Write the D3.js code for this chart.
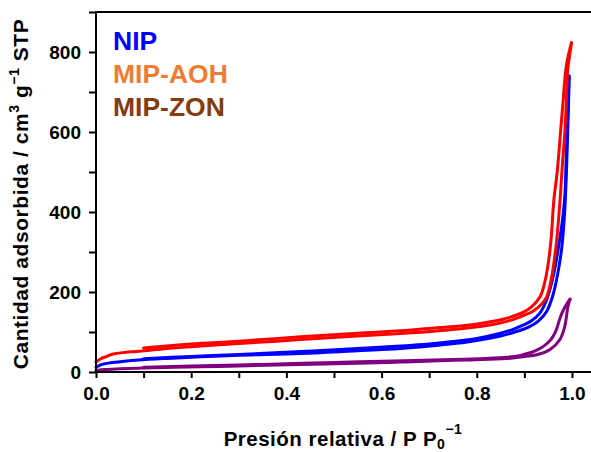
<!DOCTYPE html>
<html>
<head>
<meta charset="utf-8">
<script src="https://cdn.jsdelivr.net/npm/d3@7"></script>
<style>
  html, body { margin: 0; padding: 0; background: #fff; }
  svg { display: block; }
  text { font-family: "Liberation Sans", Arial, sans-serif; font-weight: bold; }
</style>
</head>
<body>
<svg id="chart" width="591" height="452"></svg>
<script>
// ---- Data ----
const xTicks = [0, 0.1, 0.2, 0.3, 0.4, 0.5, 0.6, 0.7, 0.8, 0.9, 1.0];
const xTickLabels = ["0.0", "", "0.2", "", "0.4", "", "0.6", "", "0.8", "", "1.0"];
const yTicks = [0, 100, 200, 300, 400, 500, 600, 700, 800, 900];
const yTickLabels = ["0", "", "200", "", "400", "", "600", "", "800", ""];

const seriesNames = ["NIP", "MIP-AOH", "MIP-ZON"];
const legendColors = ["#0000ff", "#ed7d31", "#843c0c"];
const curveColors = ["#0000ff", "#ff0000", "#800080"];

// NIP (blue)
const nipAdsX = [0, 0.01, 0.03, 0.06, 0.09, 0.15, 0.22, 0.3, 0.43, 0.55, 0.64, 0.72, 0.78, 0.85, 0.88, 0.91, 0.93, 0.947, 0.96, 0.97, 0.978, 0.983, 0.986, 0.989, 0.991, 0.993, 0.994];
const nipAdsY = [12, 18, 23, 27, 30, 34, 38, 42, 46, 53, 59, 67, 75, 90, 100, 113, 128, 152, 192, 245, 305, 370, 430, 520, 600, 680, 740];
const nipDesX = [0.994, 0.991, 0.988, 0.985, 0.979, 0.972, 0.965, 0.955, 0.945, 0.933, 0.915, 0.897, 0.875, 0.85, 0.8, 0.75, 0.7, 0.64, 0.55, 0.43, 0.3, 0.2, 0.1];
const nipDesY = [740, 640, 540, 440, 370, 315, 265, 212, 175, 148, 128, 117, 106, 97, 84, 76, 70, 65, 59, 51, 44, 39, 33];

// MIP-AOH (red)
const aohAdsX = [0, 0.01, 0.02, 0.036, 0.06, 0.092, 0.15, 0.22, 0.3, 0.43, 0.55, 0.64, 0.72, 0.78, 0.84, 0.876, 0.9, 0.918, 0.935, 0.947, 0.957, 0.964, 0.968, 0.975, 0.98, 0.985, 0.988, 0.991, 0.995, 0.999];
const aohAdsY = [25, 33, 38, 45, 49, 52, 59, 65, 71, 81, 90, 96, 103, 110, 120, 131, 142, 152, 168, 188, 235, 290, 330, 430, 520, 600, 672, 755, 790, 823];
const aohDesX = [0.999, 0.992, 0.987, 0.981, 0.976, 0.969, 0.962, 0.956, 0.95, 0.943, 0.933, 0.915, 0.897, 0.875, 0.855, 0.82, 0.78, 0.7, 0.64, 0.55, 0.43, 0.3, 0.2, 0.1];
const aohDesY = [823, 790, 755, 672, 600, 500, 430, 330, 270, 225, 188, 163, 149, 139, 132, 124, 117, 109, 103, 97, 88, 77, 70, 60];

// MIP-ZON (purple)
const zonAdsX = [0, 0.02, 0.05, 0.1, 0.22, 0.3, 0.43, 0.55, 0.64, 0.72, 0.78, 0.85, 0.876, 0.9, 0.926, 0.954, 0.975, 0.984, 0.988, 0.991, 0.994, 0.996];
const zonAdsY = [4, 6, 8, 10, 13, 15, 19, 22, 25, 28, 30, 33, 35, 39, 43, 56, 82, 110, 135, 160, 175, 182];
const zonDesX = [0.996, 0.99, 0.982, 0.975, 0.969, 0.964, 0.955, 0.94, 0.925, 0.912, 0.89, 0.863, 0.82, 0.75, 0.65, 0.5, 0.35, 0.2, 0.1];
const zonDesY = [182, 172, 155, 135, 112, 97, 80, 64, 54, 48, 41, 37, 34, 31, 28, 24, 19, 15, 12];

// ---- Layout ----
const svg = d3.select("#chart");
const mLeft = 96, mRight = 591, mTop = 12, mBottom = 372;

const x = d3.scaleLinear().domain([0, 1.04]).range([mLeft, mRight]);
const y = d3.scaleLinear().domain([0, 900]).range([mBottom, mTop]);

const zip = (xs, ys) => xs.map((v, i) => [v, ys[i]]);
const series = [
  { color: curveColors[0], branches: [zip(nipAdsX, nipAdsY), zip(nipDesX, nipDesY)] },
  { color: curveColors[2], branches: [zip(zonAdsX, zonAdsY), zip(zonDesX, zonDesY)] },
  { color: curveColors[1], branches: [zip(aohAdsX, aohAdsY), zip(aohDesX, aohDesY)] }
];

const line = d3.line()
  .x(d => x(d[0]))
  .y(d => y(d[1]))
  .curve(d3.curveCatmullRom.alpha(0.5));

series.forEach(s => {
  s.branches.forEach(b => {
    svg.append("path")
      .attr("d", line(b))
      .attr("fill", "none")
      .attr("stroke", s.color)
      .attr("stroke-width", 3)
      .attr("stroke-linejoin", "round")
      .attr("stroke-linecap", "round");
  });
});

// ---- Axes ----
const xAxis = d3.axisBottom(x)
  .tickValues(xTicks)
  .tickSize(6)
  .tickPadding(9)
  .tickFormat((d, i) => xTickLabels[i]);
const gx = svg.append("g").attr("transform", `translate(0,${mBottom})`).call(xAxis);
gx.select(".domain").attr("d", `M${mLeft},0H${mRight}`).attr("stroke", "#000").attr("stroke-width", 2);
gx.selectAll(".tick line").attr("stroke", "#000").attr("stroke-width", 2);
gx.selectAll(".tick text").attr("font-size", 19).attr("font-family", "Liberation Sans, Arial, sans-serif").attr("font-weight", "bold").attr("fill", "#000");

const yAxis = d3.axisLeft(y)
  .tickValues(yTicks)
  .tickSize(7)
  .tickPadding(8)
  .tickFormat((d, i) => yTickLabels[i]);
const gy = svg.append("g").attr("transform", `translate(${mLeft},0)`).call(yAxis);
gy.select(".domain").attr("d", `M0,${mBottom}V${mTop}`).attr("stroke", "#000").attr("stroke-width", 2);
gy.selectAll(".tick line").attr("stroke", "#000").attr("stroke-width", 2);
gy.selectAll(".tick text").attr("font-size", 19).attr("font-family", "Liberation Sans, Arial, sans-serif").attr("font-weight", "bold").attr("fill", "#000");

// top frame
svg.append("line")
  .attr("x1", mLeft - 1).attr("x2", mRight)
  .attr("y1", mTop).attr("y2", mTop)
  .attr("stroke", "#000").attr("stroke-width", 2);

// ---- Legend ----
seriesNames.forEach((name, i) => {
  svg.append("text")
    .attr("x", 113)
    .attr("y", 50 + i * 33)
    .attr("font-size", 26.5)
    .attr("fill", legendColors[i])
    .text(name);
});

// ---- Axis titles ----
const xt = svg.append("text")
  .attr("x", 343)
  .attr("y", 446)
  .attr("text-anchor", "middle")
  .attr("font-size", 20.5)
  .attr("letter-spacing", 0.5)
  .attr("fill", "#000");
xt.append("tspan").text("Presión relativa / P P");
xt.append("tspan").attr("font-size", 14).attr("dy", 3).text("0");
xt.append("tspan").attr("font-size", 14).attr("dy", -15).text("\u22121");

const yt = svg.append("text")
  .attr("transform", `translate(28,194) rotate(-90)`)
  .attr("text-anchor", "middle")
  .attr("font-size", 21)
  .attr("letter-spacing", 0.55)
  .attr("fill", "#000");
yt.append("tspan").text("Cantidad adsorbida / cm");
yt.append("tspan").attr("font-size", 14).attr("dy", -9).text("3");
yt.append("tspan").attr("dy", 9).text(" g");
yt.append("tspan").attr("font-size", 14).attr("dy", -9).text("\u22121");
yt.append("tspan").attr("dy", 9).text(" STP");
</script>
</body>
</html>
